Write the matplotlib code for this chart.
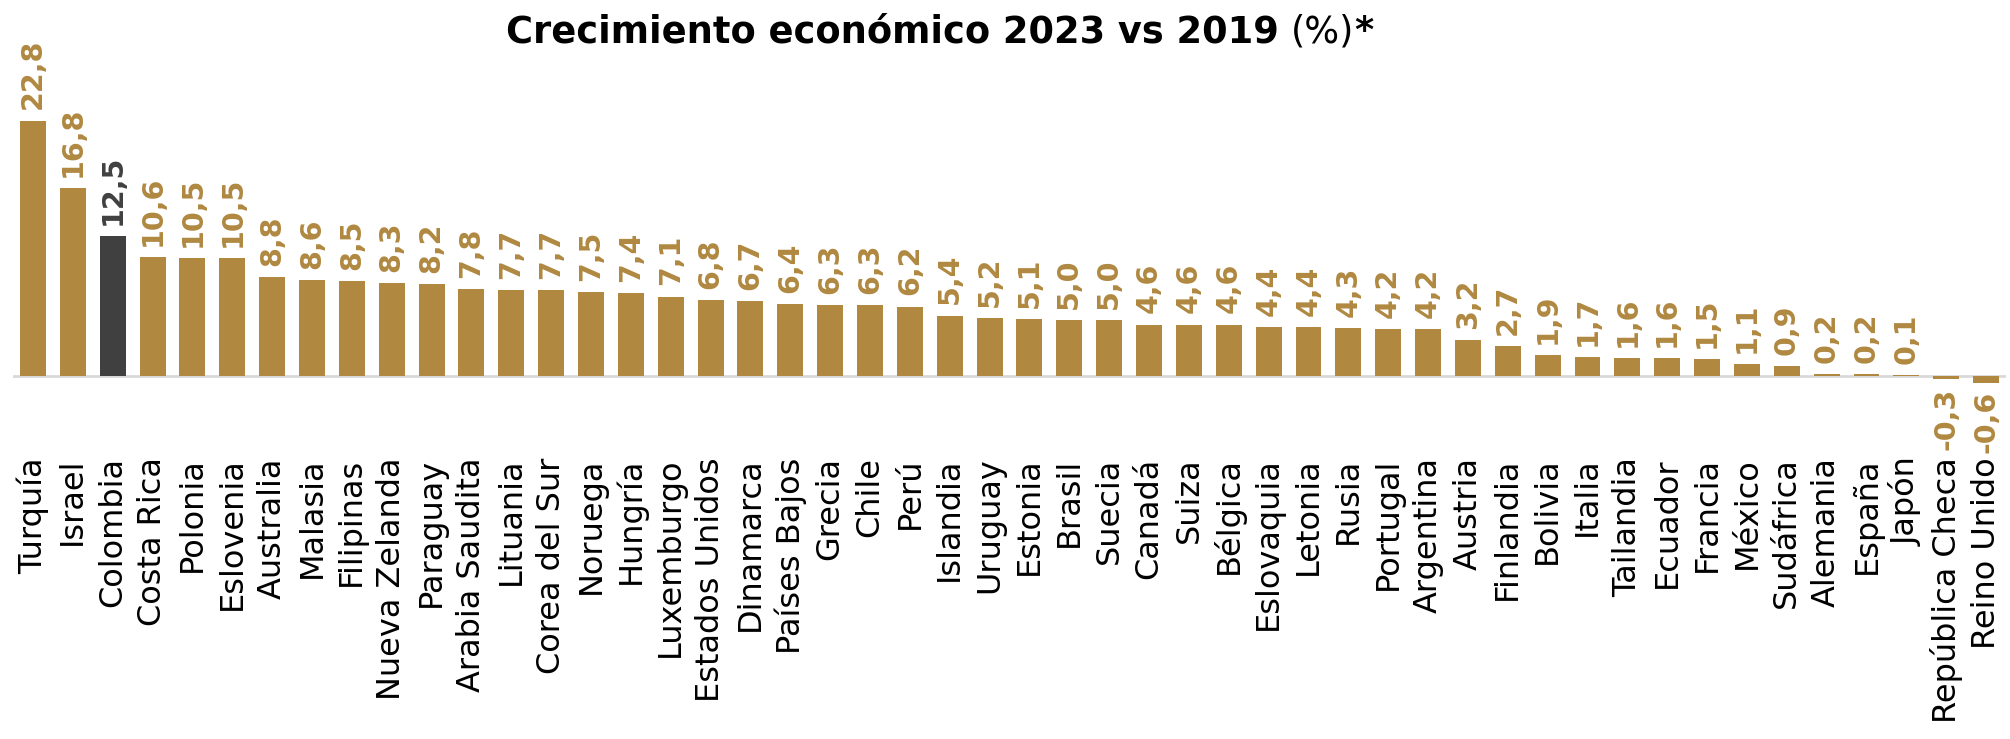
import matplotlib
matplotlib.use('Agg')
import matplotlib.pyplot as plt
import numpy as np


paises = ['Turquía', 'Israel', 'Colombia', 'Costa Rica', 'Polonia', 'Eslovenia',
          'Australia', 'Malasia', 'Filipinas', 'Nueva Zelanda', 'Paraguay',
          'Arabia Saudita', 'Lituania', 'Corea del Sur', 'Noruega', 'Hungría',
          'Luxemburgo', 'Estados Unidos', 'Dinamarca', 'Países Bajos', 'Grecia',
          'Chile', 'Perú', 'Islandia', 'Uruguay', 'Estonia', 'Brasil', 'Suecia',
          'Canadá', 'Suiza', 'Bélgica', 'Eslovaquia', 'Letonia', 'Rusia',
          'Portugal', 'Argentina', 'Austria', 'Finlandia', 'Bolivia', 'Italia',
          'Tailandia', 'Ecuador', 'Francia', 'México', 'Sudáfrica', 'Alemania',
          'España', 'Japón', 'República Checa', 'Reino Unido']
crecimiento = [22.8, 16.8, 12.5, 10.6, 10.5, 10.5, 8.8, 8.6, 8.5, 8.3, 8.2,
               7.8, 7.7, 7.7, 7.5, 7.4, 7.1, 6.8, 6.7, 6.4, 6.3, 6.3, 6.2,
               5.4, 5.2, 5.1, 5.0, 5.0, 4.6, 4.6, 4.6, 4.4, 4.4, 4.3, 4.2,
               4.2, 3.2, 2.7, 1.9, 1.7, 1.6, 1.6, 1.5, 1.1, 0.9, 0.2, 0.2,
               0.1, -0.3, -0.6]
destacado = 'Colombia'

oro = '#B08840'
gris = '#404040'


def fmt(v):
    return ('%.1f' % v).replace('.', ',')


fig = plt.figure(figsize=(20.1, 7.39), dpi=100)
ax = fig.add_axes([0.0065, 0.385, 0.9915, 0.470])

x = np.arange(len(paises))
colores = [gris if p == destacado else oro for p in paises]
ax.bar(x, crecimiento, width=0.65, color=colores, zorder=2)
ax.axhline(0, color='#d9d9d9', lw=2, zorder=1)

for xi, v, c in zip(x, crecimiento, colores):
    if v >= 0:
        ax.annotate(fmt(v), (xi, v), xytext=(0, 8), textcoords='offset points',
                    rotation=90, ha='center', va='bottom', color=c,
                    fontsize=20.5, fontweight='bold')
    else:
        ax.annotate(fmt(v), (xi, v), xytext=(0, -6), textcoords='offset points',
                    rotation=90, ha='center', va='top', color=c,
                    fontsize=20.5, fontweight='bold')

ax.set_xlim(-0.5, len(paises) - 0.5)
ax.set_ylim(-7, 24)
ax.set_xticks(x)
ax.set_xticklabels(paises, rotation=90, ha='center', va='top', fontsize=23)
ax.tick_params(axis='x', length=0, pad=2)
ax.set_yticks([])
for s in ax.spines.values():
    s.set_visible(False)

# titulo en tres partes (negrita / normal / negrita)
y_tit = 0.957
partes = [('Crecimiento económico 2023 vs 2019 ', 'bold'),
          ('(%)', 'normal'),
          ('*', 'bold')]
textos = [fig.text(0, y_tit, t, fontsize=26.5, fontweight=w, ha='left', va='center')
          for t, w in partes]
r = fig.canvas.get_renderer()
anchos = [t.get_window_extent(r).width / fig.bbox.width for t in textos]
x0 = 0.4675 - sum(anchos) / 2
for t, w in zip(textos, anchos):
    t.set_x(x0)
    x0 += w

fig.savefig('out.png', dpi=100)
